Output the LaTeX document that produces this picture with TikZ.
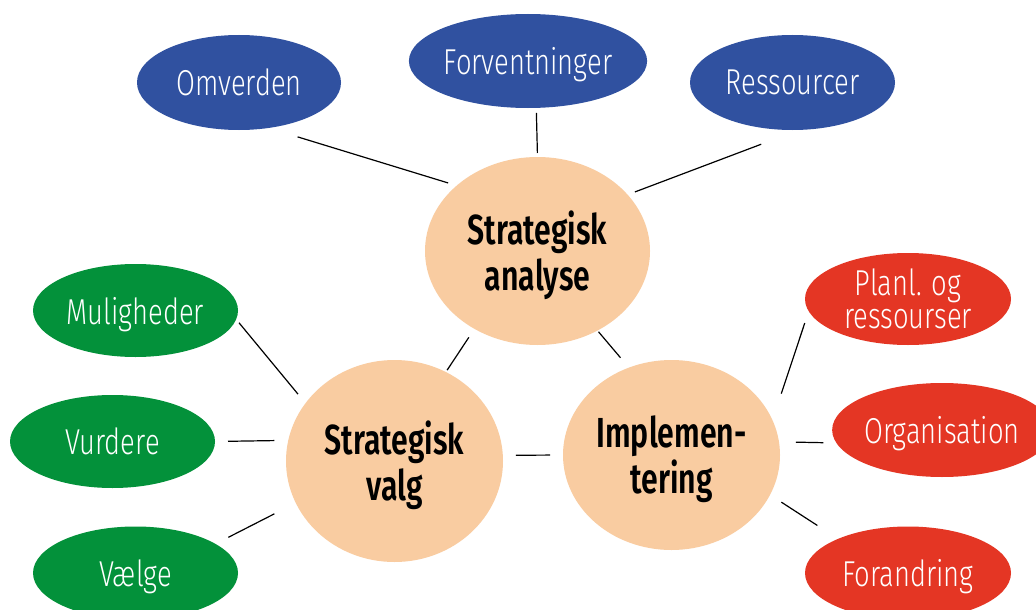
\documentclass[tikz,border=0pt]{standalone}
\usepackage{fontspec}
\setmainfont{Fira Sans}
\newfontfamily\lblfont[FakeStretch=0.76]{Fira Sans Light}
\newfontfamily\hdfont[FakeStretch=0.72]{Fira Sans SemiBold}
\usetikzlibrary{shapes.geometric}
\definecolor{cblue}{RGB}{48,81,160}
\definecolor{cgreen}{RGB}{3,145,58}
\definecolor{cred}{RGB}{228,54,36}
\definecolor{cpeach}{RGB}{249,204,161}
\newcommand\nodp[1]{\raisebox{0pt}[\height][0pt]{#1}}
\begin{document}
\begin{tikzpicture}[x=1pt,y=-1pt,
  bub/.style={ellipse, draw=none, inner sep=0pt, outer sep=0pt, text=white,
    font=\lblfont\fontsize{36}{33}\selectfont, align=center},
  blu/.style={bub, fill=cblue},
  grn/.style={bub, fill=cgreen, minimum width=205pt, minimum height=93pt},
  rd/.style={bub, fill=cred},
  core/.style={ellipse, draw=none, fill=cpeach, inner sep=0pt, outer sep=0pt, text=black,
    font=\hdfont\fontsize{42}{46}\selectfont, align=center},
  link/.style={draw=black, line width=1.2pt}
]
\useasboundingbox (0,0) rectangle (1036,610);
\fill[white] (0,0) rectangle (1036,610);

% core ellipses
\node[core, minimum width=225pt, minimum height=188pt] (ana) at (537.5,251) {Strategisk\\\nodp{analyse}};
\node[core, minimum width=217pt, minimum height=202pt] (valg) at (394.5,461) {Strategisk\\\nodp{valg}};
\node[core, minimum width=217pt, minimum height=190pt] (impl) at (671.5,455) {Implemen-\\\nodp{tering}};

% blue
\node[blu, minimum width=204pt, minimum height=95pt] (om) at (239,82.5) {\nodp{Omverden}};
\node[blu, minimum width=206pt, minimum height=94pt] (fv) at (528,61) {\nodp{Forventninger}};
\node[blu, minimum width=205pt, minimum height=95pt] (rs) at (792.5,82.5) {\nodp{Ressourcer}};

% green
\node[grn] (mu) at (135.5,310.5) {\nodp{Muligheder}};
\node[grn] (vu) at (112.5,441.5) {\nodp{Vurdere}};
\node[grn] (vae) at (135.5,573) {\nodp{Vælge}};

% red
\node[rd, minimum width=206pt, minimum height=92pt] (pl) at (908,299) {Planl. og\\\nodp{ressourser}};
\node[rd, minimum width=204pt, minimum height=94pt] (org) at (942,430) {\nodp{Organisation}};
\node[rd, minimum width=206pt, minimum height=93pt] (fo) at (908,573) {\nodp{Forandring}};

% connectors
\draw[link, shorten <=30.4pt, shorten >=9pt] (om.-57.7) -- (ana.141);
\draw[link, shorten <=5pt, shorten >=4pt] (fv.-80.3) -- (ana.90.9);
\draw[link, shorten <=40.6pt, shorten >=7.8pt] (rs.-82.1) -- (ana.32.7);
\draw[link, shorten <=10.2pt, shorten >=2.3pt] (ana.-129.6) -- (valg.60.1);
\draw[link, shorten <=1.6pt, shorten >=13pt] (ana.-53.3) -- (impl.116.3);
\draw[link, shorten <=13pt, shorten >=13pt] (valg.3.2) -- (impl.180);
\draw[link, shorten <=4.5pt, shorten >=11.8pt] (mu.-5.1) -- (valg.147);
\draw[link, shorten <=13pt, shorten >=14pt] (vu.0) -- (valg.169.9);
\draw[link, shorten <=14.5pt, shorten >=24pt] (vae.20.2) -- (valg.-157.6);
\draw[link, shorten <=12.5pt, shorten >=28pt] (pl.-173.7) -- (impl.19.3);
\draw[link, shorten <=13pt, shorten >=17pt] (org.-173.7) -- (impl.7.4);
\draw[link, shorten <=13.6pt, shorten >=24.6pt] (impl.-22.4) -- (fo.154.9);
\end{tikzpicture}
\end{document}
